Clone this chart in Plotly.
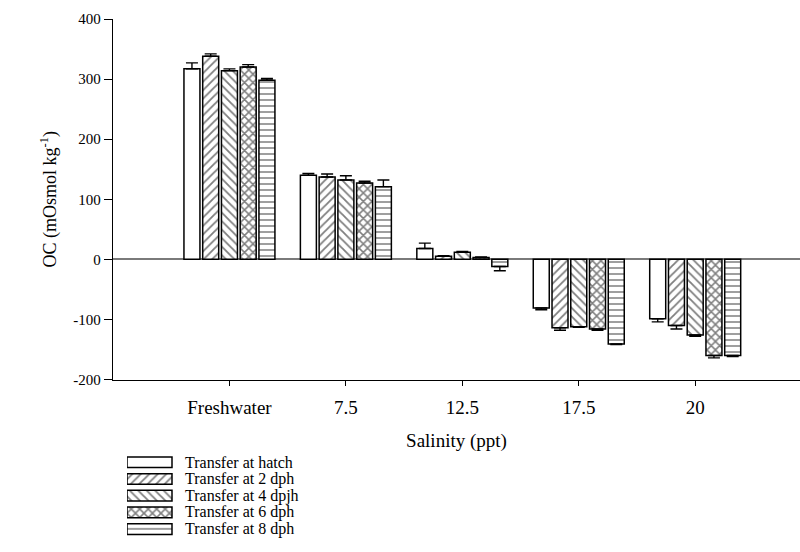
import plotly.graph_objects as go

# Osmotic concentration by salinity and transfer age
salinity = ["Freshwater", "7.5", "12.5", "17.5", "20"]
series_names = ["Transfer at hatch", "Transfer at 2 dph", "Transfer at 4 dpjh",
                "Transfer at 6 dph", "Transfer at 8 dph"]

oc_hatch = [317, 140, 18, -81, -99]
oc_2dph = [338, 137, 5, -114, -110]
oc_4dph = [314, 132, 12, -112, -126]
oc_6dph = [320, 127, 3, -116, -160]
oc_8dph = [298, 121, -12, -141, -160]

err_hatch = [10, 3, 9, 3, 5]
err_2dph = [4, 5, 1, 4, 6]
err_4dph = [3, 7, 1, 1, 2]
err_6dph = [4, 3, 1, 2, 4]
err_8dph = [3, 11, 7, 1, 2]

values = [oc_hatch, oc_2dph, oc_4dph, oc_6dph, oc_8dph]
errors = [err_hatch, err_2dph, err_4dph, err_6dph, err_8dph]
patterns = ["", "/", "\\", "x", "-"]
solid = [0.0, 0.3, 0.3, 0.45, 0.25]

FONT = "Liberation Serif"
W, H = 800, 552
ML, MR, MT, MB = 113, 0, 19, 0
plot_h = H - MT - MB
plot_w = W - ML - MR


def bar_marker(shape, solidity):
    return dict(color="white", line=dict(color="black", width=1.5),
                pattern=dict(shape=shape, fgcolor="black", bgcolor="white",
                             size=6, solidity=solidity))


fig = go.Figure()
xpos = list(range(len(salinity)))

for name, vals, errs, pat, sol in zip(series_names, values, errors, patterns, solid):
    up = [e if v >= 0 else 0 for v, e in zip(vals, errs)]
    down = [0 if v >= 0 else e for v, e in zip(vals, errs)]
    fig.add_trace(go.Bar(
        x=xpos, y=vals, name=name, showlegend=False,
        marker=bar_marker(pat, sol),
        error_y=dict(type="data", symmetric=False, array=up, arrayminus=down,
                     color="black", thickness=1.4, width=6),
        xaxis="x", yaxis="y",
    ))

# Key: one short horizontal bar per series on its own small axis
rows = list(range(len(series_names)))
for r, name, pat, sol in zip(rows, series_names, patterns, solid):
    fig.add_trace(go.Bar(
        x=[1], y=[r], orientation="h", showlegend=False, width=0.64,
        marker=bar_marker(pat, sol),
        xaxis="x2", yaxis="y2", hoverinfo="skip",
    ))
    fig.add_annotation(x=1.25, y=r, xref="x2", yref="y2", text=name,
                       showarrow=False, xanchor="left", yanchor="middle",
                       font=dict(family=FONT, size=16, color="black"))

y_bottom_px = 385
key_top_px, key_bot_px = 460.5, 545.5
key_x0_px, key_x1_px = 127, 320

fig.update_layout(
    width=W, height=H,
    margin=dict(l=ML, r=MR, t=MT, b=MB),
    paper_bgcolor="white", plot_bgcolor="white",
    barmode="group", bargap=0.195, bargroupgap=0.147,
    font=dict(family=FONT, color="black"),
    xaxis=dict(
        domain=[0, 1], range=[-1, 4.9],
        tickmode="array", tickvals=xpos, ticktext=salinity,
        ticks="outside", ticklen=5, tickcolor="black", tickwidth=1,
        ticklabelstandoff=6,
        showline=True, linecolor="black", linewidth=1.3,
        showgrid=False, zeroline=False, anchor="y",
        tickfont=dict(family=FONT, size=19),
        title=dict(text="Salinity (ppt)", font=dict(family=FONT, size=19), standoff=16),
    ),
    yaxis=dict(
        domain=[(H - MB - y_bottom_px) / plot_h, 1], range=[-200, 400],
        tickmode="array", tickvals=[-200, -100, 0, 100, 200, 300, 400],
        ticktext=["-200", "-100", "0", "100", "200", "300", "400"],
        ticks="outside", ticklen=8, tickcolor="black", tickwidth=1,
        showline=True, linecolor="black", linewidth=1.3,
        showgrid=False, zeroline=True, zerolinecolor="#7a7a7a", zerolinewidth=1.6,
        tickfont=dict(family=FONT, size=15), anchor="x",
        title=dict(text="OC (mOsmol kg<sup>-1</sup>)", font=dict(family=FONT, size=18),
                   standoff=12),
    ),
    xaxis2=dict(
        domain=[(key_x0_px - ML) / plot_w, (key_x1_px - ML) / plot_w],
        range=[0, (key_x1_px - key_x0_px) / 45.0],
        visible=False, anchor="y2",
    ),
    yaxis2=dict(
        domain=[(H - MB - key_bot_px) / plot_h, (H - MB - key_top_px) / plot_h],
        range=[4.5, -0.5], visible=False, anchor="x2",
    ),
)

fig.write_html("out.html")
